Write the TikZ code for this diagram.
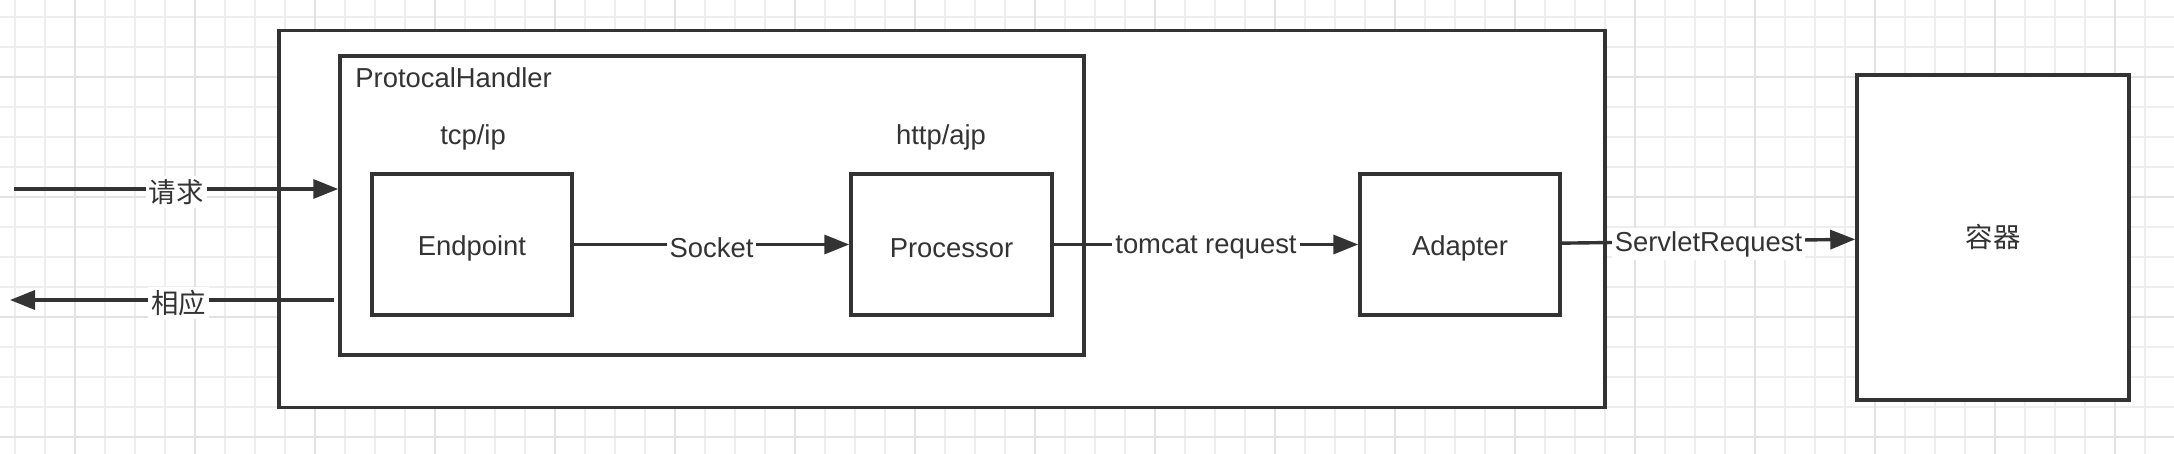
\documentclass[tikz,border=0pt]{standalone}
\usepackage{fontspec}
\setmainfont{Liberation Sans}
\newfontfamily\cjk{Noto Sans CJK SC}
\usetikzlibrary{arrows.meta}
\definecolor{ink}{HTML}{333333}
\definecolor{gridminor}{HTML}{EEEEEE}
\definecolor{gridmajor}{HTML}{E2E2E2}
\newcommand{\lowertext}[1]{\raisebox{-2pt}[\height][\depth]{#1}}
\begin{document}
\begin{tikzpicture}[x=0.5pt,y=-0.5pt,
  box/.style={draw=ink, line width=1.75pt, fill=white, rectangle, inner sep=0pt, text=ink, font=\fontsize{13.7pt}{16pt}\selectfont},
  conn/.style={draw=ink, line width=1.7pt, -{Triangle[length=12.5pt,width=9.5pt]}},
  lbl/.style={fill=white, text=ink, inner sep=1.5pt, font=\fontsize{13.7pt}{16pt}\selectfont, yshift=-1.5pt},
  txt/.style={text=ink, font=\fontsize{13.7pt}{16pt}\selectfont, inner sep=0pt},
]
\useasboundingbox (0,0) rectangle (2174,454);
\fill[white] (0,0) rectangle (2174,454);
% grid
\foreach \x in {15,45,...,2175} \draw[gridminor, line width=0.6pt] (\x,0) -- (\x,454);
\foreach \y in {17,47,...,437} \draw[gridminor, line width=0.6pt] (0,\y) -- (2174,\y);
\foreach \x in {75,195,...,2175} \draw[gridmajor, line width=0.9pt] (\x,0) -- (\x,454);
\foreach \y in {77,197,317,437} \draw[gridmajor, line width=0.9pt] (0,\y) -- (2174,\y);
% boxes
\node[box, minimum width=663pt, minimum height=188.5pt] (outer) at (942,219) {};
\node[box, minimum width=372pt, minimum height=149.5pt] (ph) at (712,205.5) {};
\node[txt, anchor=west] (phlabel) at (355,78) {ProtocalHandler};
\node[txt] (tcp) at (473,137) {tcp/ip};
\node[txt] (http) at (941,137) {http/ajp};
\node[box, minimum width=100pt, minimum height=70.5pt] (ep) at (472,244.5) {\lowertext{Endpoint}};
\node[box, minimum width=100.5pt, minimum height=70.5pt] (proc) at (951.5,244.5) {\lowertext{Processor}};
\node[box, minimum width=100pt, minimum height=70.5pt] (adapter) at (1460,244.5) {\lowertext{Adapter}};
\node[box, minimum width=136pt, minimum height=162.5pt] (container) at (1993,237.5) {\cjk 容器};
% connectors
\coordinate (reqstart) at (14,189);
\coordinate (respstart) at (334,300);
\coordinate (respend) at (10,300);
\draw[conn] (reqstart) -- (reqstart -| ph.west) node[lbl, pos=0.5] {\cjk 请求};
\draw[conn] (respstart) -- (respend) node[lbl, pos=0.48] {\cjk 相应};
\draw[conn] (ep) -- (proc) node[lbl, midway] {Socket};
\draw[conn] (proc) -- (adapter) node[lbl, midway] {tomcat request};
\draw[conn] (adapter) -- (container) node[lbl, midway] {ServletRequest};
\end{tikzpicture}
\end{document}
